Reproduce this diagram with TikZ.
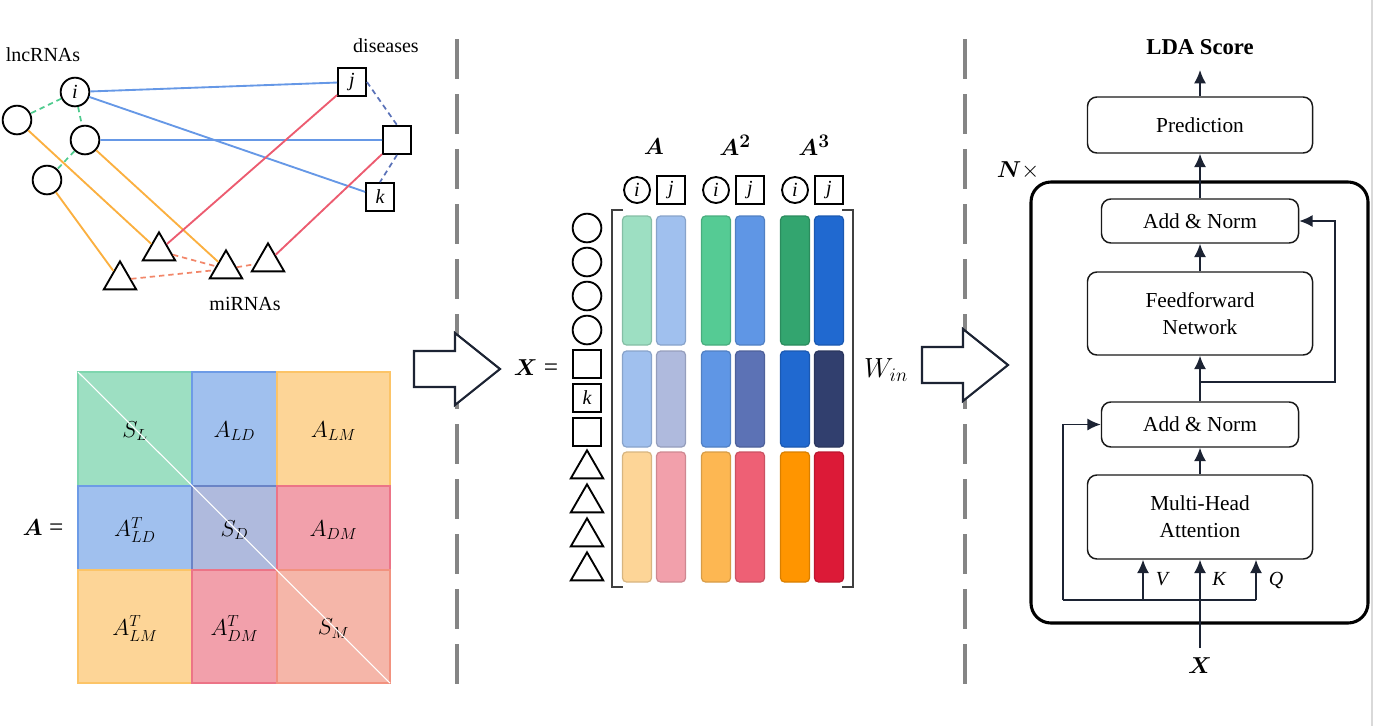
\documentclass[tikz,border=0pt]{standalone}
\usepackage{fontspec}
\setmainfont{Liberation Serif}
\usepackage{amsmath}
\usepackage{tikz}
\usetikzlibrary{shapes,arrows.meta,positioning}

\definecolor{greenL}{HTML}{9DDFC2}
\definecolor{blueL}{HTML}{A0C0EE}
\definecolor{orangeL}{HTML}{FDD597}
\definecolor{lavL}{HTML}{AFBADD}
\definecolor{pinkL}{HTML}{F2A0AB}
\definecolor{salmonL}{HTML}{F5B6A9}
\definecolor{greenLb}{HTML}{7ED6AE}
\definecolor{blueLb}{HTML}{6D9BE6}
\definecolor{orangeLb}{HTML}{FCC467}
\definecolor{lavLb}{HTML}{6A84C6}
\definecolor{pinkLb}{HTML}{EC7487}
\definecolor{salmonLb}{HTML}{F2927F}
\definecolor{greenM}{HTML}{55CB94}
\definecolor{blueM}{HTML}{5F96E5}
\definecolor{orangeM}{HTML}{FDB752}
\definecolor{navyM}{HTML}{5C72B5}
\definecolor{redM}{HTML}{EE6075}
\definecolor{greenD}{HTML}{33A56F}
\definecolor{blueD}{HTML}{2069D0}
\definecolor{orangeD}{HTML}{FF9500}
\definecolor{navyD}{HTML}{313F6E}
\definecolor{redD}{HTML}{DC1A37}
\definecolor{inkBlue}{HTML}{1C2333}
\definecolor{edgeBlue}{HTML}{6698E6}
\definecolor{edgeGreen}{HTML}{4FCB8E}
\definecolor{edgeOrange}{HTML}{FBB040}
\definecolor{edgeRed}{HTML}{EC5C70}
\definecolor{edgeSalmon}{HTML}{F2876A}
\definecolor{edgeNavy}{HTML}{5A72B8}
\definecolor{sepGray}{HTML}{858585}

\tikzset{
  every node/.style={
    font=\fontsize{15}{18}\selectfont
  },
  lnc/.style={
    shape=circle,
    draw=black,
    line width=1.4pt,
    minimum size=21.5pt,
    inner sep=0pt,
    font=\fontsize{15}{18}\selectfont\itshape
  },
  dis/.style={
    shape=rectangle,
    draw=black,
    line width=1.4pt,
    minimum size=21pt,
    inner sep=0pt,
    font=\fontsize{15}{18}\selectfont\itshape
  },
  mir/.style={
    shape=regular polygon,
    regular polygon sides=3,
    draw=black,
    line width=1.4pt,
    minimum size=28pt,
    inner sep=0pt
  },
  assoc/.style={
    line width=1.4pt
  },
  simedge/.style={
    line width=1.3pt,
    dash pattern=on 4pt off 3pt
  },
  cell/.style={
    line width=1.2pt
  },
  bar/.style={
    line width=0.9pt,
    rounded corners=3pt
  },
  bigmath/.style={
    font=\fontsize{19}{22}\selectfont
  },
  mlabel/.style={
    font=\fontsize{18}{21}\selectfont
  },
  bracket/.style={
    draw=black!75,
    line width=1.1pt
  },
  divider/.style={
    draw=sepGray,
    line width=3pt,
    dash pattern=on 30pt off 11.25pt
  },
  hollow/.style={
    draw=inkBlue,
    line width=1.6pt,
    fill=white,
    line join=miter
  },
  block/.style={
    shape=rectangle,
    draw=black!90,
    line width=1.1pt,
    rounded corners=7pt,
    align=center,
    font=\fontsize{16}{20}\selectfont
  },
  wire/.style={
    draw=inkBlue,
    line width=1.2pt
  },
  arr/.style={
    wire,
    -{Latex[length=10pt,width=9pt]}
  },
  frame/.style={
    draw=black,
    line width=2.3pt,
    rounded corners=15pt
  }
}

\begin{document}
\begin{tikzpicture}[x=0.75pt,y=-0.75pt]
\useasboundingbox (0,0) rectangle (1384,726);

% heterogeneous graph
\node [lnc] (l1) at (75,92) {i};
\node [lnc] (l2) at (17,120) {};
\node [lnc] (l3) at (85,140) {};
\node [lnc] (l4) at (47,180) {};
\node [dis] (d1) at (352,82) {j};
\node [dis] (d2) at (397,140) {};
\node [dis] (d3) at (380,197) {k};
\node [mir] (m1) at (159,251) {};
\node [mir] (m2) at (120,280) {};
\node [mir] (m3) at (226,269) {};
\node [mir] (m4) at (268,262) {};
\node (lncname) at (43,55) {lncRNAs};
\node (disname) at (386,46) {diseases};
\node (mirname) at (245,304) {miRNAs};

\draw [simedge, edgeGreen] (l1) -- (l2) (l1) -- (l3) (l3) -- (l4);
\draw [assoc, edgeBlue] (l1) -- (d1) (l1) -- (d3) (l3) -- (d2);
\draw [simedge, edgeNavy] (d1.east) -- (d2.north) (d2.south) -- (d3.north);
\draw [assoc, edgeOrange] (l2) -- (m1) (l3) -- (m3) (l4) -- (m2);
\draw [assoc, edgeRed] (m1) -- (d1) (m4) -- (d2);
\draw [simedge, edgeSalmon] (m1) -- (m3) (m2) -- (m3) (m3) -- (m4);

% adjacency matrix
\node [bigmath] (aeq) at (43,528) {$\boldsymbol{A}$ =};
\foreach \xa/\xb/\ya/\yb/\c/\t [count=\k] in {
  78/192/372/486/greenL/{$S_L$},
  192/277/372/486/blueL/{$A_{LD}$},
  277/390/372/486/orangeL/{$A_{LM}$},
  78/192/486/570/blueL/{$A_{LD}^T$},
  192/277/486/570/lavL/{$S_D$},
  277/390/486/570/pinkL/{$A_{DM}$},
  78/192/570/683/orangeL/{$A_{LM}^T$},
  192/277/570/683/pinkL/{$A_{DM}^T$},
  277/390/570/683/salmonL/{$S_M$}}
{
  \draw [cell, fill=\c, draw=\c b] (\xa,\ya) rectangle (\xb,\yb);
  \node [mlabel] (cell\k) at ({(\xa+\xb)/2},{(\ya+\yb)/2+2}) {\t};
}
\draw [white, line width=0.8pt] (78,372) -- (390,683);

% separators
\draw [divider] (457,39) -- (457,690);
\draw [divider] (965,39) -- (965,690);

% feature matrix X
\node [bigmath] (hA1) at (654,147) {$\boldsymbol{A}$};
\node [bigmath] (hA2) at (735,145) {$\boldsymbol{A^2}$};
\node [bigmath] (hA3) at (814,145) {$\boldsymbol{A^3}$};
\foreach \cx [count=\k] in {637,716,795}
  \node [lnc, minimum size=19.5pt] (hi\k) at (\cx,190) {i};
\foreach \cx [count=\k] in {671,750,829}
  \node [dis, minimum size=20.5pt] (hj\k) at (\cx,190) {j};

\foreach \cx/\ct/\cm/\cb in {
  637/greenL/blueL/orangeL,
  671/blueL/lavL/pinkL,
  716/greenM/blueM/orangeM,
  750/blueM/navyM/redM,
  795/greenD/blueD/orangeD,
  829/blueD/navyD/redD}
{
  \draw [bar, fill=\ct, draw=\ct!85!black] (\cx-14.5,216) rectangle (\cx+14.5,345);
  \draw [bar, fill=\cm, draw=\cm!85!black] (\cx-14.5,351) rectangle (\cx+14.5,447);
  \draw [bar, fill=\cb, draw=\cb!85!black] (\cx-14.5,452) rectangle (\cx+14.5,582);
}

\foreach \n in {0,...,3}
  \node [lnc] (row\n) at (587,{228+34*\n}) {};
\node [dis] (row4) at (587,364) {};
\node [dis] (row5) at (587,398) {k};
\node [dis] (row6) at (587,432) {};
\foreach \n in {7,...,10}
  \node [mir] (row\n) at (587,{228+34*\n+3}) {};

\draw [bracket] (623,210) -- (612,210) -- (612,587) -- (623,587);
\draw [bracket] (842,210) -- (853,210) -- (853,587) -- (842,587);
\node [bigmath] (xeq) at (536,368) {$\boldsymbol{X}$ =};
\node [font=\fontsize{20}{23}\selectfont] (win) at (886,370) {$W_{in}$};

% big arrows
\draw [hollow] (414,351) -- (455,351) -- (455,333) -- (500,369)
  -- (455,405) -- (455,387) -- (414,387) -- cycle;
\draw [hollow] (922,347) -- (963,347) -- (963,329) -- (1008,365)
  -- (963,401) -- (963,383) -- (922,383) -- cycle;

% transformer encoder
\draw [frame] (1031,182) rectangle (1368,623);
\node (nx) at (1018,171) {\fontsize{17}{20}\selectfont$\boldsymbol{N}\times$};
\node [font=\fontsize{17}{20}\selectfont\bfseries] (score) at (1200,47) {LDA Score};
\node [block, minimum width=168.75pt, minimum height=42pt] (pred) at (1200,125) {Prediction};
\node [block, minimum width=147.75pt, minimum height=33pt] (an2) at (1200,221) {Add \& Norm};
\node [block, minimum width=168.75pt, minimum height=62.25pt] (ffn) at (1200,313.5) {Feedforward\\Network};
\node [block, minimum width=147.75pt, minimum height=33.75pt] (an1) at (1200,424.5) {Add \& Norm};
\node [block, minimum width=168.75pt, minimum height=63pt] (mha) at (1200,517) {Multi-Head\\Attention};
\node [font=\fontsize{18}{21}\selectfont] (xin) at (1200,666) {$\boldsymbol{X}$};

\draw [arr] (mha) -- (an1);
\draw [arr] (an1) -- (ffn);
\draw [arr] (ffn) -- (an2);
\draw [arr] (an2) -- (pred);
\draw [arr, shorten >=8pt] (pred) -- (score);

\coordinate (fork1) at (1200,382);
\coordinate (bend1) at (1335,382);
\draw [arr] (fork1) -- (bend1) |- (an2.east);

\coordinate (rfoot) at (1063,600);
\coordinate (vfoot) at (1143,600);
\coordinate (qfoot) at (1256,600);
\draw [arr, shorten <=4pt] (xin) -- (mha);
\draw [wire] (rfoot) -- (qfoot);
\draw [arr] (rfoot) |- (an1.west);
\draw [arr] (vfoot) -- (vfoot |- mha.south);
\draw [arr] (qfoot) -- (qfoot |- mha.south);
\node [font=\fontsize{15}{18}\selectfont\itshape] (vlab) at (1162,579) {V};
\node [font=\fontsize{15}{18}\selectfont\itshape] (klab) at (1219,579) {K};
\node [font=\fontsize{15}{18}\selectfont\itshape] (qlab) at (1276,580) {Q};

\draw [draw=black!15, line width=1pt] (1372,0) -- (1372,726);
\end{tikzpicture}
\end{document}
